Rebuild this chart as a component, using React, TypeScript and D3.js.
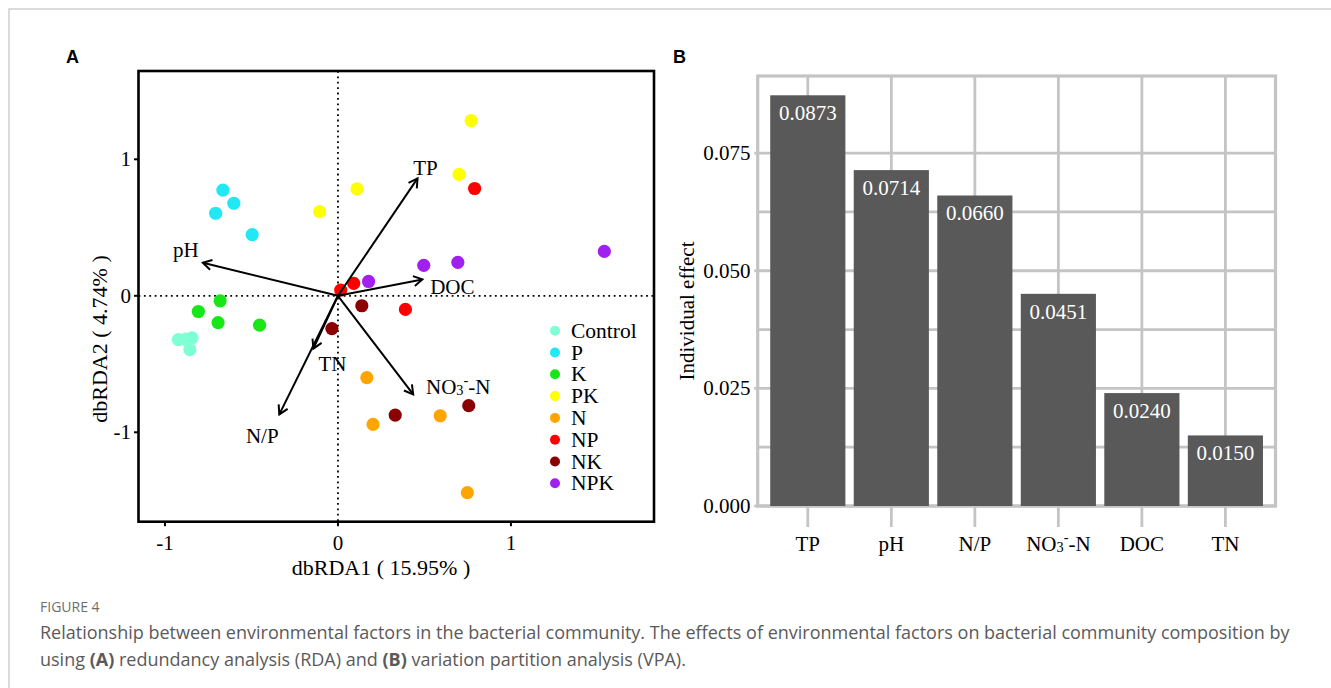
import React, { useEffect, useRef } from "react";
import * as d3 from "d3";

// RDA sample scores, 4 replicates per treatment
const groups = ["Control", "P", "K", "PK", "N", "NP", "NK", "NPK"];
const groupColors = ["#7FFFD4", "#22E8F4", "#17E617", "#FFFF00", "#FFA500", "#FF0000", "#8B0000", "#A020F0"];

const sampleGroup = [
  "Control", "Control", "Control", "Control",
  "P", "P", "P", "P",
  "K", "K", "K", "K",
  "PK", "PK", "PK", "PK",
  "N", "N", "N", "N",
  "NP", "NP", "NP", "NP",
  "NK", "NK", "NK", "NK",
  "NPK", "NPK", "NPK", "NPK",
];
const rda1Scores = [
  -0.923, -0.844, -0.856, -0.879,
  -0.665, -0.602, -0.707, -0.496,
  -0.681, -0.807, -0.693, -0.453,
  0.77, 0.7, 0.11, -0.106,
  0.167, 0.203, 0.591, 0.748,
  0.016, 0.091, 0.79, 0.39,
  0.138, -0.035, 0.331, 0.756,
  1.54, 0.496, 0.693, 0.177,
];
const rda2Scores = [
  -0.321, -0.308, -0.394, -0.318,
  0.774, 0.678, 0.605, 0.448,
  -0.037, -0.115, -0.196, -0.215,
  1.284, 0.89, 0.783, 0.617,
  -0.6, -0.942, -0.879, -1.442,
  0.042, 0.091, 0.786, -0.1,
  -0.073, -0.24, -0.874, -0.805,
  0.325, 0.223, 0.245, 0.105,
];

// environmental vectors
const envFactors = ["TP", "pH", "DOC", "TN", "N/P", "NO3-N"];
const envRda1 = [0.46, -0.781, 0.488, -0.142, -0.339, 0.435];
const envRda2 = [0.86, 0.242, 0.12, -0.387, -0.869, -0.722];
const envLabelNudge = [[8, -10], [-17, -13], [30, 8], [19, 15], [-17, 22], [45, -7]];

const rdaTicks = [-1, 0, 1];

// VPA individual effects
const vpaFactors = ["TP", "pH", "N/P", "NO3-N", "DOC", "TN"];
const vpaEffects = [0.0873, 0.0714, 0.066, 0.0451, 0.024, 0.015];
const vpaTicks = [0, 0.025, 0.05, 0.075];
const vpaMinorTicks = [0.0125, 0.0375, 0.0625];

const serif = "'Liberation Serif', 'Times New Roman', serif";
const sans = "'Open Sans', 'Noto Sans', sans-serif";

function writeLabel(text: any, label: string) {
  if (label === "NO3-N") {
    text.append("tspan").text("NO");
    text.append("tspan").attr("font-size", "68%").attr("dy", 3).text("3");
    text.append("tspan").attr("font-size", "68%").attr("dy", -10).text("-");
    text.append("tspan").attr("dy", 7).text("-N");
  } else {
    text.text(label);
  }
}

export default function App() {
  const ref = useRef<SVGSVGElement>(null);

  useEffect(() => {
    const svg = d3.select(ref.current);
    svg.selectAll("*").remove();

    // page frame
    svg.append("path").attr("d", "M9,688V9H1331").attr("fill", "none")
      .attr("stroke", "#cfcfcf").attr("stroke-width", 1.5);

    svg.append("text").attr("x", 66).attr("y", 63).text("A")
      .attr("font-family", "'Liberation Sans', Arial, sans-serif").attr("font-weight", "bold").attr("font-size", 18);
    svg.append("text").attr("x", 673).attr("y", 63).text("B")
      .attr("font-family", "'Liberation Sans', Arial, sans-serif").attr("font-weight", "bold").attr("font-size", 18);

    // ---------- panel A: dbRDA ----------
    const x = d3.scaleLinear().domain([-1.153, 1.827]).range([138.5, 654]);
    const y = d3.scaleLinear().domain([-1.655, 1.647]).range([521.7, 71]);
    const color = d3.scaleOrdinal<string, string>(groups, groupColors);
    const gA = svg.append("g").attr("font-family", serif);

    gA.append("line").attr("x1", x(0)).attr("x2", x(0)).attr("y1", y.range()[1]).attr("y2", y.range()[0])
      .attr("stroke", "#000").attr("stroke-width", 1.8).attr("stroke-dasharray", "1.8,3.6");
    gA.append("line").attr("y1", y(0)).attr("y2", y(0)).attr("x1", x.range()[0]).attr("x2", x.range()[1])
      .attr("stroke", "#000").attr("stroke-width", 1.8).attr("stroke-dasharray", "1.8,3.6");

    const samples = sampleGroup.map((g, i) => ({ g, a: rda1Scores[i], b: rda2Scores[i] }));
    gA.append("g").selectAll("circle").data(samples).join("circle")
      .attr("cx", d => x(d.a)).attr("cy", d => y(d.b)).attr("r", 6.6)
      .attr("fill", d => color(d.g));

    const env = envFactors.map((f, i) => ({ f, a: envRda1[i], b: envRda2[i], n: envLabelNudge[i] }));
    const arrows = gA.append("g").attr("stroke", "#000").attr("stroke-width", 2).attr("fill", "none");
    env.forEach(d => {
      const x0 = x(0), y0 = y(0), x1 = x(d.a), y1 = y(d.b);
      const ang = Math.atan2(y1 - y0, x1 - x0);
      const len = 10, spread = Math.PI / 6;
      arrows.append("line").attr("x1", x0).attr("y1", y0).attr("x2", x1).attr("y2", y1);
      arrows.append("path")
        .attr("d", `M${x1 - len * Math.cos(ang - spread)},${y1 - len * Math.sin(ang - spread)}L${x1},${y1}L${x1 - len * Math.cos(ang + spread)},${y1 - len * Math.sin(ang + spread)}`);
    });
    env.forEach(d => {
      const t = gA.append("text")
        .attr("x", x(d.a) + d.n[0]).attr("y", y(d.b) + d.n[1])
        .attr("text-anchor", "middle").attr("dominant-baseline", "central")
        .attr("font-size", 21);
      writeLabel(t, d.f);
    });

    // box and ticks
    gA.append("rect").attr("x", x.range()[0]).attr("y", y.range()[1])
      .attr("width", x.range()[1] - x.range()[0]).attr("height", y.range()[0] - y.range()[1])
      .attr("fill", "none").attr("stroke", "#000").attr("stroke-width", 2.6);
    rdaTicks.forEach(v => {
      gA.append("line").attr("x1", x(v)).attr("x2", x(v)).attr("y1", y.range()[0]).attr("y2", y.range()[0] + 4.5)
        .attr("stroke", "#000").attr("stroke-width", 2);
      gA.append("text").attr("x", x(v)).attr("y", 543).attr("text-anchor", "middle")
        .attr("dominant-baseline", "central").attr("font-size", 21).text(v);
      gA.append("line").attr("y1", y(v)).attr("y2", y(v)).attr("x1", x.range()[0]).attr("x2", x.range()[0] - 4.5)
        .attr("stroke", "#000").attr("stroke-width", 2);
      gA.append("text").attr("x", 131).attr("y", y(v)).attr("text-anchor", "end")
        .attr("dominant-baseline", "central").attr("font-size", 21).text(v);
    });

    gA.append("text").attr("x", 381).attr("y", 567).attr("text-anchor", "middle")
      .attr("dominant-baseline", "central").attr("font-size", 22).text("dbRDA1 ( 15.95% )");
    gA.append("text").attr("transform", "translate(99,339) rotate(-90)").attr("text-anchor", "middle")
      .attr("dominant-baseline", "central").attr("font-size", 22).text("dbRDA2 ( 4.74% )");

    const legend = gA.append("g").selectAll("g").data(groups).join("g")
      .attr("transform", (d, i) => `translate(555,${330.7 + i * 21.8})`);
    legend.append("circle").attr("r", 5).attr("fill", d => color(d));
    legend.append("text").attr("x", 16).attr("dominant-baseline", "central")
      .attr("font-size", 21.5).text(d => d);

    // ---------- panel B: VPA bars ----------
    // discrete axis expanded by 0.6 of a step on each side, bars 0.9 of a step
    const bx = d3.scalePoint().domain(vpaFactors).range([757.7, 1275.5]).padding(0.6);
    const barW = bx.step() * 0.9;
    const by = d3.scaleLinear().domain([0, 0.0914]).range([506, 76]);
    const gB = svg.append("g").attr("font-family", serif);
    const grid = "#c4c4c4";
    const cx = (f: string) => bx(f) as number;

    [...vpaTicks, ...vpaMinorTicks].forEach(v => {
      gB.append("line").attr("x1", bx.range()[0]).attr("x2", bx.range()[1]).attr("y1", by(v)).attr("y2", by(v))
        .attr("stroke", grid).attr("stroke-width", 2.8);
    });
    vpaFactors.forEach(f => {
      gB.append("line").attr("x1", cx(f)).attr("x2", cx(f)).attr("y1", by.range()[1]).attr("y2", by.range()[0] + 21)
        .attr("stroke", grid).attr("stroke-width", 2.8);
    });
    vpaTicks.forEach(v => {
      gB.append("line").attr("x1", bx.range()[0] - 3.5).attr("x2", bx.range()[0]).attr("y1", by(v)).attr("y2", by(v))
        .attr("stroke", grid).attr("stroke-width", 2.8);
    });
    gB.append("rect").attr("x", bx.range()[0]).attr("y", by.range()[1])
      .attr("width", bx.range()[1] - bx.range()[0]).attr("height", by.range()[0] - by.range()[1])
      .attr("fill", "none").attr("stroke", grid).attr("stroke-width", 3.2);

    const bars = vpaFactors.map((f, i) => ({ f, v: vpaEffects[i] }));
    gB.append("g").selectAll("rect").data(bars).join("rect")
      .attr("x", d => cx(d.f) - barW / 2).attr("width", barW)
      .attr("y", d => by(d.v)).attr("height", d => by(0) - by(d.v))
      .attr("fill", "#595959");
    gB.append("g").selectAll("text").data(bars).join("text")
      .attr("x", d => cx(d.f)).attr("y", d => by(d.v) + 18)
      .attr("text-anchor", "middle").attr("dominant-baseline", "central")
      .attr("fill", "#fff").attr("font-size", 21).text(d => d.v.toFixed(4));

    vpaTicks.forEach(v => {
      gB.append("text").attr("x", 750.5).attr("y", by(v)).attr("text-anchor", "end")
        .attr("dominant-baseline", "central").attr("font-size", 21).text(v.toFixed(3));
    });
    vpaFactors.forEach(f => {
      const t = gB.append("text").attr("x", cx(f)).attr("y", 544).attr("text-anchor", "middle")
        .attr("dominant-baseline", "central").attr("font-size", 21);
      writeLabel(t, f);
    });
    gB.append("text").attr("transform", "translate(687,311) rotate(-90)").attr("text-anchor", "middle")
      .attr("dominant-baseline", "central").attr("font-size", 21).text("Individual effect");

    // ---------- caption ----------
    const cap = svg.append("g").attr("font-family", sans).attr("fill", "#5a5a5a");
    cap.append("text").attr("x", 40).attr("y", 612).attr("font-size", 14).attr("fill", "#6e6e6e").text("FIGURE 4");
    cap.append("text").attr("x", 40).attr("y", 639).attr("font-size", 18)
      .text("Relationship between environmental factors in the bacterial community. The effects of environmental factors on bacterial community composition by");
    const l2 = cap.append("text").attr("x", 40).attr("y", 666).attr("font-size", 18);
    l2.append("tspan").text("using ");
    l2.append("tspan").attr("font-weight", "bold").text("(A)");
    l2.append("tspan").text(" redundancy analysis (RDA) and ");
    l2.append("tspan").attr("font-weight", "bold").text("(B)");
    l2.append("tspan").text(" variation partition analysis (VPA).");
  }, []);

  return (
    <svg ref={ref} width={1331} height={688}
      style={{ position: "absolute", left: 0, top: 0, background: "#fff" }} />
  );
}
